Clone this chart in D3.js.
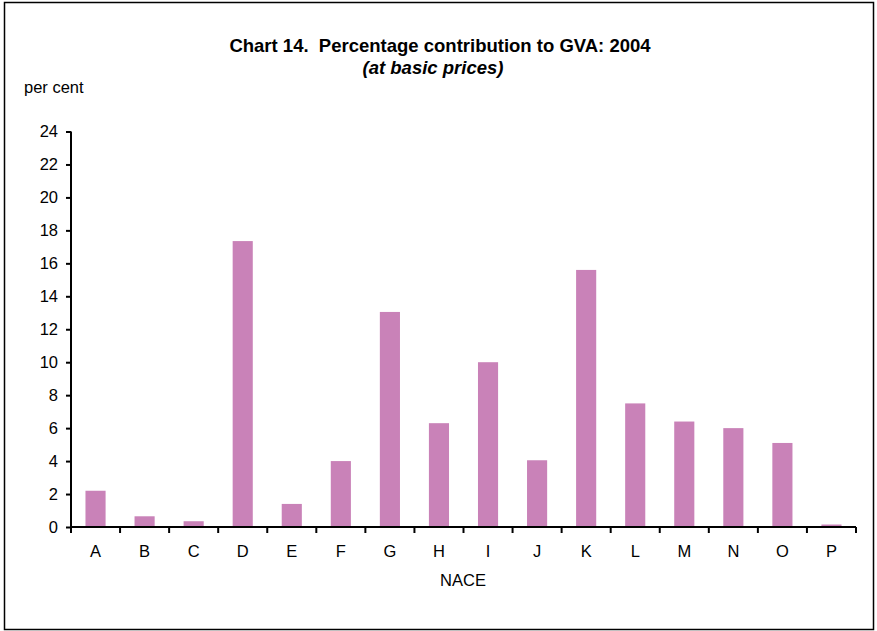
<!DOCTYPE html>
<html><head><meta charset="utf-8">
<script src="https://cdn.jsdelivr.net/npm/d3@7"></script>
<style>body{margin:0;background:#fff}svg{display:block}text{font-family:"Liberation Sans",Arial,sans-serif;fill:#000}</style>
</head><body>
<svg id="c" width="877" height="631"></svg>
<script>
const categories = ["A","B","C","D","E","F","G","H","I","J","K","L","M","N","O","P"];
const values = [2.2,0.65,0.35,17.35,1.4,4.0,13.05,6.3,10.0,4.05,15.6,7.5,6.4,6.0,5.1,0.15];
const yTicks = [0,2,4,6,8,10,12,14,16,18,20,22,24];

const svg = d3.select("#c");
svg.append("rect").attr("x",4.5).attr("y",2.5).attr("width",869).attr("height",627)
  .attr("fill","#fff").attr("stroke","#000").attr("stroke-width",1.5);

const x0 = 71, x1 = 856, yTop = 131.5, yBot = 527;
const x = d3.scaleBand().domain(categories).range([x0,x1]).paddingInner(0.59).paddingOuter(0.295);
const y = d3.scaleLinear().domain([0,24]).range([yBot,yTop]);

svg.append("g").selectAll("rect").data(values).join("rect")
  .attr("x",(d,i)=>x(categories[i])).attr("width",x.bandwidth())
  .attr("y",d=>y(d)).attr("height",d=>yBot-y(d)).attr("fill","#c982b8");

const ya = svg.append("g").attr("transform",`translate(${x0},0)`)
  .call(d3.axisLeft(y).tickValues(yTicks).tickSize(5).tickPadding(8).tickFormat(d3.format("d")));
ya.select(".domain").attr("stroke","#000").attr("stroke-width",2).attr("d",`M0,${yTop}V${yBot}`);
ya.selectAll(".tick line").attr("stroke","#000").attr("stroke-width",2);
ya.selectAll(".tick text").style("font-size","16.5px");

const step = (x1-x0)/categories.length;
const xa = svg.append("g").attr("transform",`translate(0,${yBot})`)
  .call(d3.axisBottom(x).tickSize(0).tickPadding(18));
xa.select(".domain").attr("stroke","#000").attr("stroke-width",2).attr("d",`M${x0},0H${x1}`);
xa.selectAll(".tick text").style("font-size","16.5px");
const bounds = d3.range(categories.length+1).map(i=>x0+i*step);
svg.append("g").selectAll("line").data(bounds).join("line")
  .attr("x1",d=>d).attr("x2",d=>d).attr("y1",yBot).attr("y2",yBot+6)
  .attr("stroke","#000").attr("stroke-width",2);

svg.append("text").attr("x",440).attr("y",51.5).attr("text-anchor","middle")
  .style("font-size","18.5px").style("font-weight","bold").style("white-space","pre")
  .text("Chart 14.  Percentage contribution to GVA: 2004");
svg.append("text").attr("x",433).attr("y",73.5).attr("text-anchor","middle")
  .style("font-size","18.5px").style("font-weight","bold").style("font-style","italic")
  .text("(at basic prices)");
svg.append("text").attr("x",24).attr("y",93).style("font-size","16.5px").text("per cent");
svg.append("text").attr("x",(x0+x1)/2 - 0.5).attr("y",586).attr("text-anchor","middle")
  .style("font-size","16.5px").text("NACE");
</script>
</body></html>
